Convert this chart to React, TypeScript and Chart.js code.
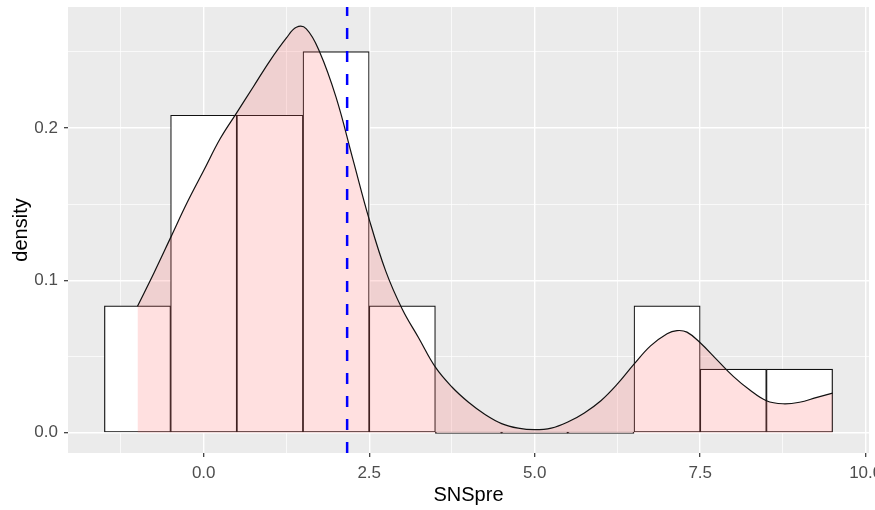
import React, { useEffect, useRef } from "react";
import { Chart, registerables } from "chart.js";

Chart.register(...registerables);

// Histogram of SNSpre (binwidth 1, bins centred on integers), as densities
const binCenters = [-1, 0, 1, 2, 3, 4, 5, 6, 7, 8, 9];
const binDensity = [0.0833, 0.2083, 0.2083, 0.25, 0.0833, 0, 0, 0, 0.0833, 0.0417, 0.0417];

// Kernel density estimate of SNSpre
const densX = [
  -1, -0.75, -0.5, -0.25, 0, 0.25, 0.5, 0.75, 1, 1.25, 1.4, 1.55, 1.75, 2, 2.25, 2.5,
  2.75, 3, 3.25, 3.5, 3.75, 4, 4.25, 4.5, 4.75, 5, 5.25, 5.5, 5.75, 6, 6.25, 6.5, 6.75,
  7, 7.15, 7.3, 7.5, 7.75, 8, 8.25, 8.5, 8.75, 9, 9.25, 9.5,
];
const densY = [
  0.083, 0.105, 0.128, 0.151, 0.172, 0.193, 0.21, 0.227, 0.244, 0.259, 0.266, 0.265, 0.25,
  0.22, 0.18, 0.14, 0.106, 0.081, 0.062, 0.043, 0.03, 0.02, 0.012, 0.006, 0.003, 0.002,
  0.003, 0.007, 0.013, 0.021, 0.032, 0.045, 0.057, 0.065, 0.067, 0.066, 0.059, 0.048,
  0.037, 0.028, 0.021, 0.019, 0.02, 0.023, 0.026,
];

// Mean of SNSpre
const meanValue = 2.1667;

// Axis breaks
const xMajor = [0, 2.5, 5, 7.5, 10];
const xMinor = [-1.25, 1.25, 3.75, 6.25, 8.75];
const yMajor = [0, 0.1, 0.2];
const yMinor = [0.05, 0.15, 0.25];

const xTitle = "SNSpre";
const yTitle = "density";

const binWidth = 1;
const xLo = binCenters[0] - binWidth / 2;
const xHi = binCenters[binCenters.length - 1] + binWidth / 2;
const xPad = (xHi - xLo) * 0.05;
const yTop = Math.max(...binDensity, ...densY);
const yPad = yTop * 0.05;
const X_MIN = xLo - xPad;
const X_MAX = xHi + xPad;
const Y_MIN = -yPad;
const Y_MAX = yTop + yPad;

const isMajor = (list: number[], v: number) => list.some((m) => Math.abs(m - v) < 1e-9);

const panelBg = {
  id: "panelBg",
  beforeDraw(chart: any) {
    const { ctx, chartArea } = chart;
    ctx.save();
    ctx.fillStyle = "#EBEBEB";
    ctx.fillRect(chartArea.left, chartArea.top, chartArea.right - chartArea.left, chartArea.bottom - chartArea.top);
    ctx.restore();
  },
};

const FONT = "Arial, 'Liberation Sans', sans-serif";

function gridFor(major: number[]) {
  return {
    offset: false,
    color: "#FFFFFF",
    lineWidth: (c: any) => (isMajor(major, c.tick?.value) ? 1.4 : 0.7),
    tickColor: (c: any) => (isMajor(major, c.tick?.value) ? "#333333" : "rgba(0,0,0,0)"),
    tickLength: 4,
    tickWidth: 1.2,
    drawTicks: true,
  };
}

export default function App() {
  const ref = useRef<HTMLCanvasElement | null>(null);

  useEffect(() => {
    if (!ref.current) return;
    const chart = new Chart(ref.current, {
      type: "bar",
      data: {
        datasets: [
          {
            type: "line",
            data: [
              { x: meanValue, y: Y_MIN },
              { x: meanValue, y: Y_MAX },
            ],
            borderColor: "#0000FF",
            borderWidth: 2.5,
            borderDash: [11, 12],
            pointRadius: 0,
            fill: false,
            order: 1,
          } as any,
          {
            type: "line",
            data: densX.map((x, i) => ({ x, y: densY[i] })),
            borderColor: "#111111",
            borderWidth: 1.2,
            backgroundColor: "rgba(255,102,102,0.2)",
            fill: "origin",
            pointRadius: 0,
            tension: 0.4,
            order: 2,
          } as any,
          {
            type: "bar",
            data: binCenters.map((x, i) => ({ x, y: binDensity[i] })),
            backgroundColor: "#FFFFFF",
            borderColor: "#111111",
            borderWidth: 1.2,
            borderSkipped: false,
            minBarLength: 1.5,
            barPercentage: 1,
            categoryPercentage: 1,
            order: 3,
          } as any,
        ],
      },
      options: {
        animation: false,
        responsive: false,
        maintainAspectRatio: false,
        layout: { padding: { top: 7, right: 6, left: 0, bottom: 0 } },
        plugins: { legend: { display: false }, tooltip: { enabled: false } },
        scales: {
          x: {
            type: "linear",
            offset: false,
            min: X_MIN,
            max: X_MAX,
            afterBuildTicks: (s: any) => {
              s.ticks = [...xMinor, ...xMajor].sort((a, b) => a - b).map((v) => ({ value: v }));
            },
            afterFit: (s: any) => {
              s.height = 57;
              s.paddingLeft = 0;
              s.paddingRight = 0;
            },
            ticks: {
              autoSkip: false,
              maxRotation: 0,
              padding: 6,
              color: "#4D4D4D",
              font: { family: FONT, size: 17 },
              callback: (v: any) => (isMajor(xMajor, Number(v)) ? Number(v).toFixed(1) : ""),
            },
            grid: gridFor(xMajor),
            border: { display: false },
            title: {
              display: true,
              text: xTitle,
              color: "#000000",
              font: { family: FONT, size: 20 },
              padding: { top: 0, bottom: 3 },
            },
          },
          y: {
            type: "linear",
            min: Y_MIN,
            max: Y_MAX,
            afterBuildTicks: (s: any) => {
              s.ticks = [...yMinor, ...yMajor].sort((a, b) => a - b).map((v) => ({ value: v }));
            },
            afterFit: (s: any) => {
              s.width = 68;
              s.paddingTop = 0;
              s.paddingBottom = 0;
            },
            ticks: {
              autoSkip: false,
              padding: 6,
              color: "#4D4D4D",
              font: { family: FONT, size: 17 },
              callback: (v: any) => (isMajor(yMajor, Number(v)) ? Number(v).toFixed(1) : ""),
            },
            grid: gridFor(yMajor),
            border: { display: false },
            title: {
              display: true,
              text: yTitle,
              color: "#000000",
              font: { family: FONT, size: 20 },
              padding: { top: 9, bottom: 0 },
            },
          },
        },
      },
      plugins: [panelBg],
    });
    return () => chart.destroy();
  }, []);

  return (
    <div style={{ position: "absolute", left: 0, top: 0, width: 875, height: 510, background: "#FFFFFF" }}>
      <canvas ref={ref} width={875} height={510} style={{ display: "block" }} />
    </div>
  );
}
